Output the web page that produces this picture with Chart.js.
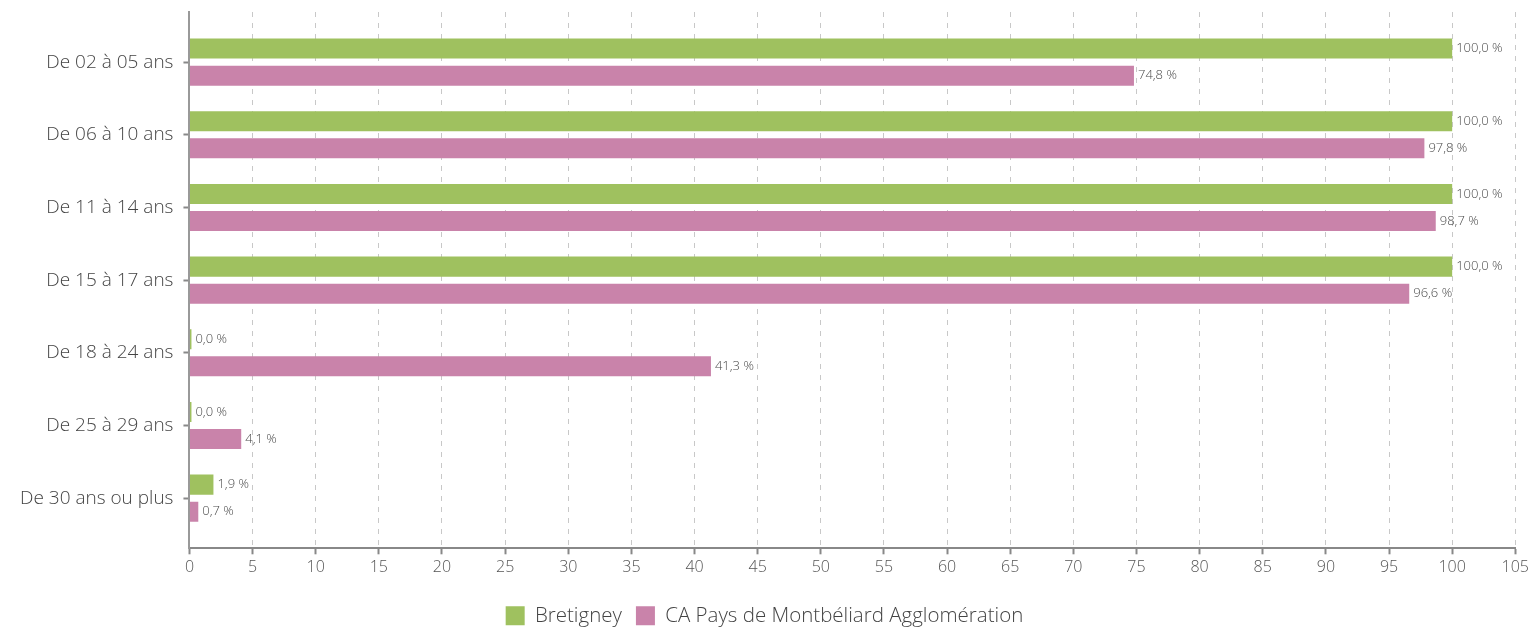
<!DOCTYPE html>
<html><head><meta charset="utf-8">
<script src="https://cdn.jsdelivr.net/npm/chart.js@4/dist/chart.umd.min.js"></script>
<style>html,body{margin:0;padding:0;background:#fff}#wrap{width:1533px;height:628px}</style>
</head><body><div id="wrap"><canvas id="c" width="1533" height="628"></canvas></div>
<script>
const categories = ["De 02 à 05 ans","De 06 à 10 ans","De 11 à 14 ans","De 15 à 17 ans","De 18 à 24 ans","De 25 à 29 ans","De 30 ans ou plus"];
const seriesNames = ["Bretigney","CA Pays de Montbéliard Agglomération"];
const bretigney = [100.0,100.0,100.0,100.0,0.0,0.0,1.9];
const montbeliard = [74.8,97.8,98.7,96.6,41.3,4.1,0.7];
const xTicks = [0,5,10,15,20,25,30,35,40,45,50,55,60,65,70,75,80,85,90,95,100,105];

const FONT = "'Open Sans', sans-serif";
const toPts = arr => arr.map((v,i)=>({x:v,y:i}));

const labelPlugin = {
  id:'vals',
  afterDatasetsDraw(chart){
    const ctx = chart.ctx;
    ctx.save();
    ctx.font = "300 13px " + FONT;
    ctx.fillStyle = "#4a4a4a";
    ctx.textBaseline = "middle";
    ctx.textAlign = "left";
    chart.data.datasets.forEach((ds,di)=>{
      chart.getDatasetMeta(di).data.forEach((bar,i)=>{
        const v = ds.data[i].x;
        const t = v.toFixed(1).replace('.',',') + " %";
        ctx.fillText(t, bar.x + 4, bar.y);
      });
    });
    ctx.restore();
  }
};

const legendShift = {
  id:'legendShift',
  afterLayout(chart){ if (chart.legend){ chart.legend.top += 10; chart.legend.bottom += 10; } }
};

new Chart(document.getElementById('c'), {
  type:'bar',
  data:{
    datasets:[
      {label:seriesNames[0], data:toPts(bretigney), backgroundColor:'#9fc15f', categoryPercentage:0.745, barPercentage:0.74, minBarLength:2},
      {label:seriesNames[1], data:toPts(montbeliard), backgroundColor:'#c983aa', categoryPercentage:0.745, barPercentage:0.74, minBarLength:2}
    ]
  },
  options:{
    indexAxis:'y',
    responsive:false,
    animation:false,
    layout:{padding:{top:12,right:14,left:10,bottom:2}},
    scales:{
      x:{
        type:'linear', min:0, max:105,
        afterBuildTicks(s){ s.ticks = xTicks.map(v=>({value:v})); },
        grid:{color:'#c8c8c8', lineWidth:1, tickColor:'#888', tickLength:6, tickWidth:2},
        border:{display:true, color:'#888', width:2, dash:[5,6]},
        ticks:{color:'#555', font:{family:FONT, size:16, weight:'300'}, padding:4, maxRotation:0, autoSkip:false}
      },
      y:{
        type:'linear', reverse:true, min:-0.69, max:6.69, offset:false,
        afterBuildTicks(s){ s.ticks = categories.map((c,i)=>({value:i})); },
        afterFit(s){ s.paddingTop = 0; s.paddingBottom = 0; },
        grid:{drawOnChartArea:false, tickColor:'#888', tickLength:6, tickWidth:2, offset:false},
        border:{display:true, color:'#999', width:2},
        ticks:{color:'#444', font:{family:FONT, size:19, weight:'300'}, padding:10, autoSkip:false,
          callback:(v)=>categories[v] ?? ''}
      }
    },
    plugins:{
      legend:{position:'bottom', labels:{font:{family:FONT,size:20.5,weight:'300'}, color:'#444', boxWidth:19, boxHeight:19, padding:14}},
      tooltip:{enabled:false}
    }
  },
  plugins:[labelPlugin, legendShift]
});
</script></body></html>
